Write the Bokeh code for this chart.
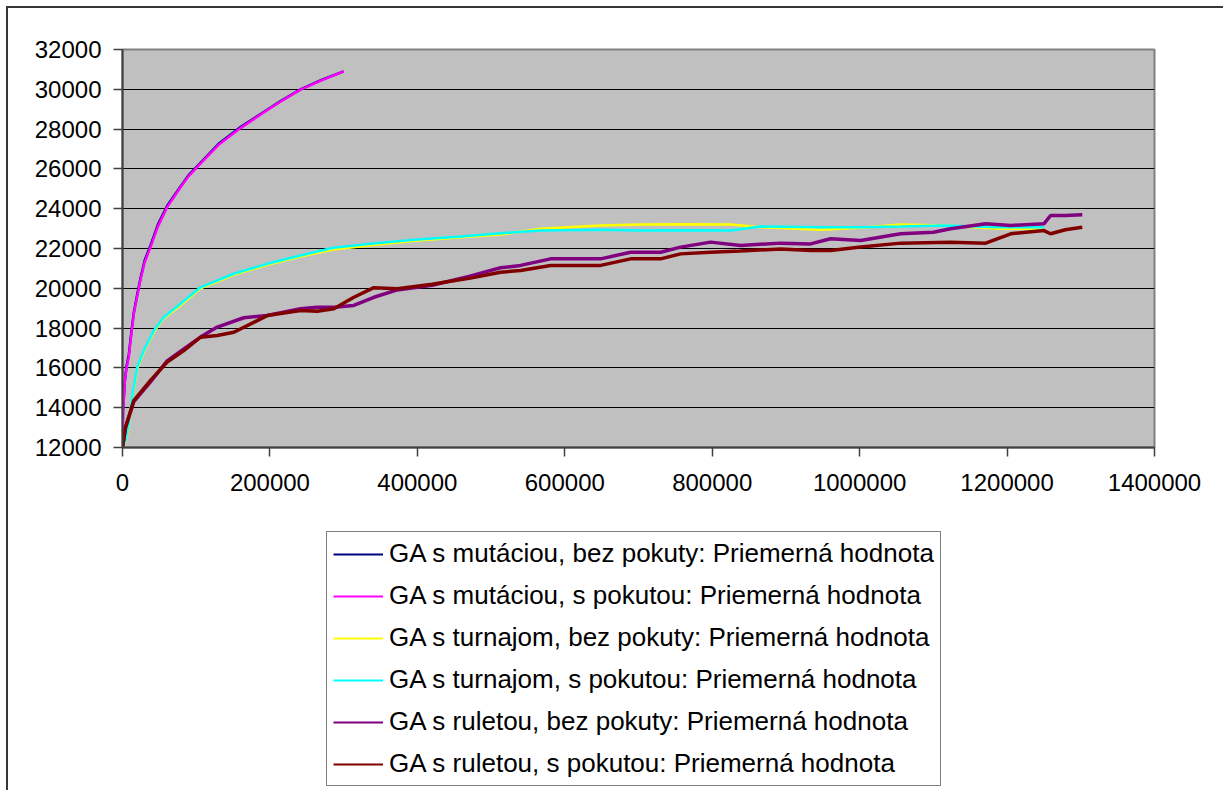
from bokeh.plotting import figure
from bokeh.layouts import column
from bokeh.models import (Legend, LegendItem, FixedTicker, NumeralTickFormatter,
                          Range1d, InlineStyleSheet)
from bokeh.embed import file_html
from bokeh.resources import INLINE

# GA s mutáciou (navy = bez pokuty, magenta = s pokutou)
mut_x = [0, 700, 3100, 5500, 8500, 12000, 15400, 20000, 24400, 30000, 38000,
         48000, 60600, 78700, 90000, 105800, 130000, 160100, 190000, 215000,
         241500, 270000, 300000]
mut_bez = [12000, 13900, 15300, 16100, 16650, 17800, 18800, 19700, 20500, 21400,
           22150, 23200, 24150, 25120, 25700, 26300, 27250, 28100, 28820, 29420,
           30000, 30470, 30900]
mut_s = [12000, 13700, 15280, 16000, 16540, 17700, 18720, 19600, 20430, 21300,
         22070, 23100, 24080, 25080, 25650, 26260, 27200, 28050, 28800, 29400,
         29980, 30450, 30900]

# GA s turnajom (yellow = bez pokuty, cyan = s pokutou)
tur_x = [0, 4000, 8500, 13100, 19900, 28900, 42500, 56000, 78700, 105800, 151000,
         196300, 241500, 286000, 340000, 400000, 460000, 512900, 567200, 648600,
         702800, 765000, 825000, 865700, 947100, 1001400, 1055600, 1114000,
         1191000, 1250000]
tur_bez = [12000, 12300, 13100, 14450, 15950, 16800, 17820, 18500, 19150, 20000,
           20680, 21180, 21600, 21950, 22180, 22400, 22560, 22700, 22990, 23160,
           23200, 23220, 23200, 23070, 22940, 23040, 23200, 23150, 22990, 23000]
tur_s = [12000, 12350, 13190, 14530, 16035, 16870, 17880, 18550, 19220, 20050,
         20730, 21230, 21650, 22040, 22250, 22450, 22600, 22770, 22900, 22940,
         22900, 22920, 22900, 23100, 23070, 23070, 23100, 23150, 23070, 23070]

# GA s ruletou, bez pokuty (purple)
rul_bez_x = [0, 4100, 15300, 38000, 60600, 83200, 105800, 128500, 164600, 196300,
             241500, 264000, 286700, 313800, 341000, 372700, 420000, 470000,
             512900, 540000, 580700, 648600, 689300, 730000, 757100, 797800,
             838500, 892800, 933500, 960600, 1001400, 1055600, 1100000, 1123500,
             1171000, 1205000, 1250000, 1259000, 1279000, 1302000]
rul_bez = [12000, 13000, 14300, 15300, 16350, 16950, 17550, 18050, 18520, 18630,
           18970, 19050, 19050, 19140, 19550, 19920, 20150, 20600, 21030, 21150,
           21480, 21480, 21810, 21810, 22070, 22320, 22150, 22270, 22230, 22490,
           22400, 22740, 22820, 22990, 23240, 23160, 23240, 23660, 23660, 23690]

# GA s ruletou, s pokutou (dark red)
rul_s_x = [0, 4100, 15300, 38000, 60600, 83200, 105800, 128500, 151000, 196300,
           241500, 264000, 286700, 313800, 341000, 372700, 420000, 470000, 512900,
           540000, 580700, 648600, 689300, 730000, 757100, 797800, 838500, 892800,
           933500, 960600, 1001400, 1055600, 1123500, 1171000, 1205000, 1250000,
           1259000, 1279000, 1302000]
rul_s = [12000, 13020, 14360, 15370, 16290, 16870, 17540, 17630, 17790, 18630,
         18880, 18850, 18970, 19550, 20030, 19980, 20200, 20500, 20810, 20890,
         21150, 21150, 21480, 21480, 21730, 21810, 21870, 21980, 21900, 21900,
         22070, 22270, 22320, 22270, 22740, 22900, 22740, 22940, 23070]

labels = [
    "GA s mutáciou, bez pokuty: Priemerná hodnota",
    "GA s mutáciou, s pokutou: Priemerná hodnota",
    "GA s turnajom, bez pokuty: Priemerná hodnota",
    "GA s turnajom, s pokutou: Priemerná hodnota",
    "GA s ruletou, bez pokuty: Priemerná hodnota",
    "GA s ruletou, s pokutou: Priemerná hodnota",
]
colors = ["#000080", "#FF00FF", "#FFFF00", "#00FFFF", "#800080", "#800000"]
x_ticks = [0, 200000, 400000, 600000, 800000, 1000000, 1200000, 1400000]
y_ticks = [12000, 14000, 16000, 18000, 20000, 22000, 24000, 26000, 28000, 30000, 32000]

FONT = "Liberation Sans"
TOP_H = 515
LEG_H = 790 - TOP_H

series = [(mut_x, mut_bez, 2.5), (mut_x, mut_s, 2.5),
          (tur_x, tur_bez, 2.5), (tur_x, tur_s, 2.5),
          (rul_bez_x, rul_bez, 3.5), (rul_s_x, rul_s, 3.5)]

# ---- chart ----
p = figure(width=1223, height=TOP_H,
           x_range=Range1d(0, 1400000), y_range=Range1d(12000, 32000),
           output_backend="svg", toolbar_location=None,
           min_border_left=122, min_border_right=69,
           min_border_top=49, min_border_bottom=TOP_H - 447,
           background_fill_color="#C0C0C0", border_fill_color="white",
           outline_line_color="#808080", outline_line_width=2)

for ax in (p.xaxis[0], p.yaxis[0]):
    ax.major_label_text_font = FONT
    ax.major_label_text_font_size = "24px"
    ax.major_label_text_color = "black"
    ax.axis_line_color = "#404040"
    ax.axis_line_width = 2
    ax.major_tick_line_color = "#404040"
    ax.major_tick_line_width = 1.5
    ax.major_tick_out = 9
    ax.major_tick_in = 0
    ax.minor_tick_line_color = None
    ax.formatter = NumeralTickFormatter(format="0")

p.xaxis.ticker = FixedTicker(ticks=x_ticks)
p.yaxis.ticker = FixedTicker(ticks=y_ticks)
p.xaxis.major_label_standoff = 17
p.yaxis.major_label_standoff = 12

p.xgrid.grid_line_color = None
# inner gridlines only; the top and bottom edges belong to the plot border
p.ygrid.ticker = FixedTicker(ticks=y_ticks[1:-1])
p.ygrid.grid_line_color = "black"
p.ygrid.grid_line_width = 1

for (xs, ys, w), c in zip(series, colors):
    p.line(xs, ys, line_color=c, line_width=w)

# ---- legend panel (its frame lines up with the chart frame) ----
# the key lines reuse the series data on a range where they stay out of view
lg = figure(width=1223, height=LEG_H, x_range=Range1d(-2, -1), y_range=Range1d(0, 1),
            output_backend="svg", toolbar_location=None,
            x_axis_location=None, y_axis_location=None,
            min_border=0, outline_line_color=None,
            background_fill_color="white", border_fill_color="white")
lg.grid.visible = False

keys = [lg.line(xs, ys, line_color=c, line_width=2)
        for (xs, ys, _), c in zip(series, colors)]
legend = Legend(items=[LegendItem(label=t, renderers=[r]) for t, r in zip(labels, keys)],
                location=(204, LEG_H - 16 - 255), margin=0, padding=6, spacing=11,
                glyph_width=50, glyph_height=30, label_height=30,
                label_standoff=6, label_text_font=FONT,
                label_text_font_size="26px", label_text_color="black",
                border_line_color="black", border_line_width=1,
                background_fill_color="white", background_fill_alpha=1)
lg.add_layout(legend)

# thin dark frame around the whole chart (left and top edges visible)
frame_css = InlineStyleSheet(css="""
:host { position: relative; }
:host::after {
  content: ""; position: absolute; left: 6px; top: 6px;
  width: 1300px; height: 900px;
  border: 2px solid #383838; pointer-events: none; box-sizing: border-box;
}
""")

page = column(p, lg, spacing=0, stylesheets=[frame_css])

open("out.html", "w").write(file_html(page, INLINE))
